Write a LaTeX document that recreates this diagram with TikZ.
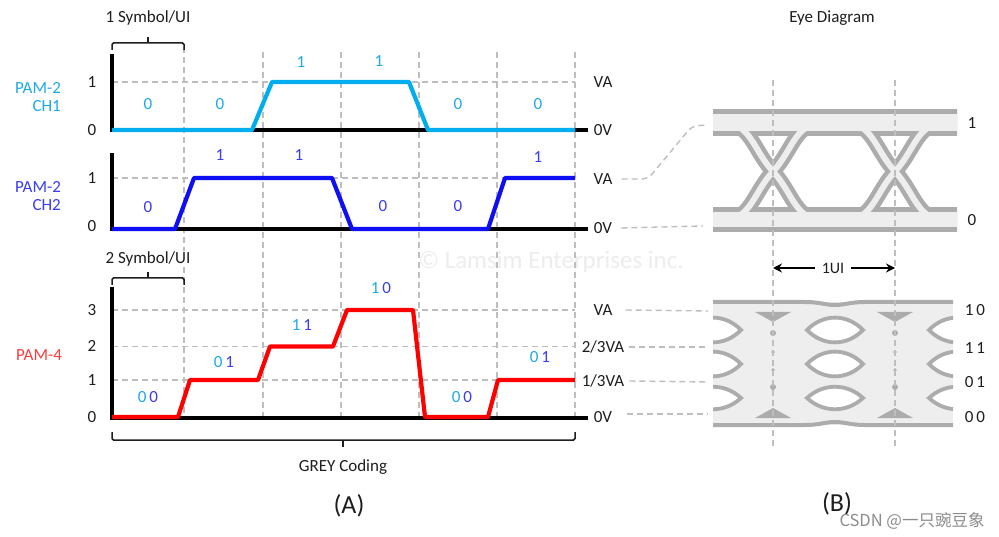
\documentclass[tikz,border=0pt]{standalone}
\usepackage{fontspec}
\setmainfont{Carlito}
\newfontfamily\cjkfont{Noto Sans CJK SC}
\usetikzlibrary{arrows.meta}
\definecolor{chone}{RGB}{0,174,239}
\definecolor{chtwo}{RGB}{15,15,245}
\definecolor{pamred}{RGB}{255,0,0}
\definecolor{txt}{RGB}{30,30,30}
\definecolor{gridg}{RGB}{190,190,190}
\definecolor{eyedk}{RGB}{172,172,172}
\definecolor{eyelt}{RGB}{238,238,238}
\definecolor{lblone}{RGB}{30,170,230}
\definecolor{lbltwo}{RGB}{60,60,240}
\definecolor{lblred}{RGB}{255,60,60}
\tikzset{
  txtnode/.style={text=txt, inner sep=1pt, font=\fontsize{17}{19}\selectfont},
  bignode/.style={text=txt, inner sep=1pt, font=\fontsize{26}{28}\selectfont},
  gridline/.style={gridg, line width=1.4pt, dash pattern=on 6pt off 4pt},
  axisline/.style={black, line width=3.6pt},
  wave/.style={line width=4.2pt, line join=round},
  brk/.style={txt, line width=1.5pt, rounded corners=1.5pt},
  conn/.style={gridg, line width=1.4pt, dash pattern=on 6pt off 4pt},
  bitone/.style={text=lblone, inner sep=1pt, font=\fontsize{17}{19}\selectfont},
  bittwo/.style={text=lbltwo, inner sep=1pt, font=\fontsize{17}{19}\selectfont},
  uiarrow/.style={black, line width=2.6pt, -{Stealth[length=9pt,width=9pt]}},
}
\begin{document}
\begin{tikzpicture}[x=1pt,y=-1pt]
\useasboundingbox (0,0) rectangle (999,537);
\fill[white] (0,0) rectangle (999,537);

% faint watermark
\node[text=black!7, font=\fontsize{25}{27}\selectfont] (wm) at (551,262) {© Lamsim Enterprises inc.};

% ---------- vertical grid ----------
\draw[gridline] (184,47) -- (184,417);
\foreach \gx in {263,341,419,497,575}{\draw[gridline] (\gx,52) -- (\gx,417);}
% horizontal level lines
\draw[gridline] (112,82) -- (575,82);
\draw[gridline] (112,178) -- (575,178);
\draw[gridline] (112,310) -- (575,310);
\draw[gridline] (112,346.5) -- (575,346.5);
\draw[gridline] (112,380) -- (575,380);

% ---------- axes ----------
\draw[axisline] (112,54) -- (112,131.8);
\draw[axisline] (110.2,130) -- (588,130);
\draw[axisline] (112,153) -- (112,230.8);
\draw[axisline] (110.2,229) -- (588,229);
\draw[axisline] (112,287) -- (112,419.8);
\draw[axisline] (110.2,418) -- (588,418);

% ---------- waveforms ----------
\draw[wave, chone] (112,130) -- (252,130) -- (272,82) -- (409,82) -- (428,130) -- (575,130);
\draw[wave, chtwo] (112,229) -- (175,229) -- (194,178) -- (332,178) -- (352,229) -- (488,229) -- (505,178) -- (575,178);
\draw[wave, pamred] (112,417) -- (178,417) -- (190,380) -- (258,380) -- (270,346.5) -- (333,346.5) -- (347,310) -- (413,310) -- (425,417) -- (488,417) -- (498,380) -- (575,380);

% ---------- brackets ----------
\node[txtnode] (symone) at (148,18) {1 Symbol/UI};
\draw[brk] (112,50) -- (112,43) -- (184,43) -- (184,50);
\draw[brk] (148,43) -- (148,37.5);
\node[txtnode, fill=white] (symtwo) at (148,259) {2 Symbol/UI};
\draw[brk] (112,285) -- (112,278) -- (184,278) -- (184,285);
\draw[brk] (148,278) -- (148,272.5);
\draw[brk] (112,432) -- (112,440) -- (575,440) -- (575,432);
\draw[brk] (343,440) -- (343,446.5);
\node[txtnode] (grey) at (343,467) {GREY Coding};
\node[bignode] (capA) at (349,506) {(A)};

% ---------- left labels ----------
\node[text=lblone, inner sep=1pt, font=\fontsize{17}{19}\selectfont, align=right] (pamone) at (38,97) {PAM-2\\[-1pt]CH1};
\node[text=lbltwo, inner sep=1pt, font=\fontsize{17}{19}\selectfont, align=right] (pamtwo) at (38,196) {PAM-2\\[-1pt]CH2};
\node[text=lblred, inner sep=1pt, font=\fontsize{17}{19}\selectfont] (pamfour) at (39,355) {PAM-4};

% axis ticks
\node[txtnode] (ta1) at (92,82) {1};
\node[txtnode] (ta0) at (92,130) {0};
\node[txtnode] (tb1) at (92,178) {1};
\node[txtnode] (tb0) at (92,226) {0};
\node[txtnode] (tc3) at (92,310) {3};
\node[txtnode] (tc2) at (92,346) {2};
\node[txtnode] (tc1) at (92,380) {1};
\node[txtnode] (tc0) at (92,417) {0};

% right labels
\node[txtnode] (vaa) at (603,82) {VA};
\node[txtnode] (ova) at (603,130) {0V};
\node[txtnode] (vab) at (603,179) {VA};
\node[txtnode] (ovb) at (603,228) {0V};
\node[txtnode] (vac) at (603,310) {VA};
\node[txtnode] (tthree) at (603,347) {2/3VA};
\node[txtnode] (othree) at (603,381) {1/3VA};
\node[txtnode] (ovc) at (603,417) {0V};

% bit labels CH1
\node[bitone] (a1) at (148,104) {0};
\node[bitone] (a2) at (220,104) {0};
\node[bitone] (a3) at (301,62) {1};
\node[bitone] (a4) at (379,61) {1};
\node[bitone] (a5) at (458,104) {0};
\node[bitone] (a6) at (538,104) {0};
% bit labels CH2
\node[bittwo] (b1) at (148,207) {0};
\node[bittwo] (b2) at (220,155) {1};
\node[bittwo] (b3) at (299,155) {1};
\node[bittwo] (b4) at (383,206) {0};
\node[bittwo] (b5) at (458,206) {0};
\node[bittwo] (b6) at (538,157) {1};
% bit labels PAM-4
\node[inner sep=1pt, font=\fontsize{17}{19}\selectfont] (c1) at (148,397) {\textcolor{lblone}{0}\,\textcolor{lbltwo}{0}};
\node[inner sep=1pt, font=\fontsize{17}{19}\selectfont] (c2) at (224,362) {\textcolor{lblone}{0}\,\textcolor{lbltwo}{1}};
\node[inner sep=1pt, font=\fontsize{17}{19}\selectfont] (c3) at (302,325) {\textcolor{lblone}{1}\,\textcolor{lbltwo}{1}};
\node[inner sep=1pt, font=\fontsize{17}{19}\selectfont] (c4) at (381,288) {\textcolor{lblone}{1}\,\textcolor{lbltwo}{0}};
\node[inner sep=1pt, font=\fontsize{17}{19}\selectfont] (c5) at (462,397) {\textcolor{lblone}{0}\,\textcolor{lbltwo}{0}};
\node[inner sep=1pt, font=\fontsize{17}{19}\selectfont] (c6) at (540,357) {\textcolor{lblone}{0}\,\textcolor{lbltwo}{1}};

% ---------- eye diagram (top, PAM-2) ----------
\node[txtnode] (eyett) at (832,18) {Eye Diagram};
\begin{scope}
\clip (713,95) rectangle (957,245);
\draw[eyedk, line width=27pt] (700,123) -- (970,123);
\draw[eyedk, line width=25pt] (700,220) -- (970,220);
\foreach \c in {651,773,895,1017}{
  \draw[eyedk, line width=15pt] (\c-50,123) .. controls (\c-22,123) and (\c-20,150) .. (\c,171.5) .. controls (\c+20,193) and (\c+22,220) .. (\c+50,220);
  \draw[eyedk, line width=15pt] (\c-50,220) .. controls (\c-22,220) and (\c-20,193) .. (\c,171.5) .. controls (\c+20,150) and (\c+22,123) .. (\c+50,123);
}
\draw[eyelt, line width=17pt] (700,123) -- (970,123);
\draw[eyelt, line width=15pt] (700,220) -- (970,220);
\foreach \c in {651,773,895,1017}{
  \draw[eyelt, line width=6pt] (\c-50,123) .. controls (\c-22,123) and (\c-20,150) .. (\c,171.5) .. controls (\c+20,193) and (\c+22,220) .. (\c+50,220);
  \draw[eyelt, line width=6pt] (\c-50,220) .. controls (\c-22,220) and (\c-20,193) .. (\c,171.5) .. controls (\c+20,150) and (\c+22,123) .. (\c+50,123);
}
\end{scope}

% ---------- eye diagram (bottom, PAM-4) ----------
\fill[eyelt] (713,302) rectangle (953,425);
\begin{scope}
\clip (713,302) rectangle (953,425);
\foreach \cx in {713,835,957}{
  \foreach \cy/\h in {330/16.5,364/16.5,398/15}{
    \draw[eyedk, fill=white, line width=3.8pt] (\cx-28,\cy) .. controls (\cx-12,\cy-\h) and (\cx+12,\cy-\h) .. (\cx+28,\cy) .. controls (\cx+12,\cy+\h) and (\cx-12,\cy+\h) .. cycle;
  }
}
\end{scope}
\draw[eyedk, line width=4pt] (713,302) -- (805,302) .. controls (820,302) and (825,305) .. (835,305) .. controls (845,305) and (850,302) .. (865,302) -- (953,302);
\draw[eyedk, line width=4pt] (713,425) -- (805,425) .. controls (820,425) and (825,422) .. (835,422) .. controls (845,422) and (850,425) .. (865,425) -- (953,425);
\foreach \tx in {773,895}{
  \fill[eyedk] (\tx-18,312) -- (\tx+18,312) -- (\tx,322) -- cycle;
  \fill[eyedk] (\tx-18,418) -- (\tx+18,418) -- (\tx,408) -- cycle;
  \fill[eyedk] (\tx,333) circle[radius=3pt];
  \fill[eyedk] (\tx,387) circle[radius=3pt];
  \fill[eyedk] (\tx,352) circle[radius=1.8pt];
  \fill[eyedk] (\tx,370) circle[radius=1.8pt];
}

% eye vertical dashed lines
\draw[gridline] (773,80) -- (773,447);
\draw[gridline] (895,80) -- (895,447);

% 1UI arrows
\node[text=txt, inner sep=1pt, font=\fontsize{16}{18}\selectfont] (ui) at (833,268) {1UI};
\coordinate (uil) at (773,268);
\coordinate (uir) at (895,268);
\draw[uiarrow] (ui.west) ++(-6,0) -- (uil);
\draw[uiarrow] (ui.east) ++(6,0) -- (uir);

% eye labels
\node[txtnode] (e1) at (972,123) {1};
\node[txtnode] (e0) at (972,220) {0};
\node[txtnode] (f3) at (975,310) {1\,0};
\node[txtnode] (f2) at (975,348) {1\,1};
\node[txtnode] (f1) at (975,382) {0\,1};
\node[txtnode] (f0) at (975,417) {0\,0};

% connectors from waveform levels to eyes
\coordinate (k1) at (708,125);
\coordinate (k0) at (703,226);
\draw[conn, rounded corners=6pt] ([xshift=8pt]vab.east) -- (648,179) -- (692,126) -- (k1);
\draw[conn] ([xshift=8pt]ovb.east) -- (k0);
\coordinate (m3) at (708,311);
\coordinate (m2) at (708,347);
\coordinate (m1) at (708,382);
\coordinate (m0) at (708,414);
\draw[conn] ([xshift=12pt]vac.east) -- (m3);
\draw[conn] ([xshift=4pt]tthree.east) -- (m2);
\draw[conn] ([xshift=4pt]othree.east) -- (m1);
\draw[conn] ([xshift=14pt]ovc.east |- m0) -- (m0);

\node[bignode] (capB) at (837,504) {(B)};
\node[text=black!45, inner sep=1pt, font=\cjkfont\fontsize{16.5}{18}\selectfont] (csdn) at (912,521) {CSDN @一只豌豆象};
\end{tikzpicture}
\end{document}
